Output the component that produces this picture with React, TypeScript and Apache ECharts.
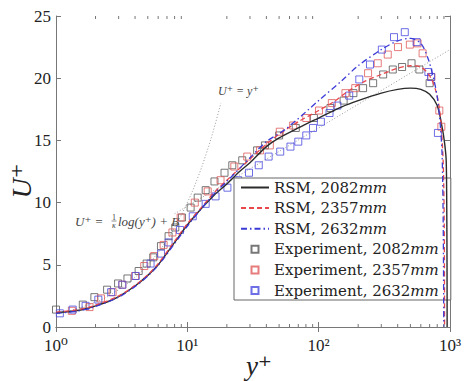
import React, { useEffect, useRef } from "react";
import * as echarts from "echarts";

// RSM model profiles (y+, U+)
const rsm2082: number[][] = [
  [1, 1.15], [1.5, 1.35], [2, 1.7], [2.5, 2.05], [3, 2.45], [4, 3.3], [5, 4.15], [6, 5.0],
  [8, 6.8], [10, 8.2], [13, 9.6], [16, 10.6], [20, 11.5], [25, 12.5], [30, 13.2], [40, 14.5],
  [50, 15.2], [70, 16.0], [100, 16.8], [150, 17.7], [200, 18.2], [300, 18.8], [400, 19.1],
  [500, 19.2], [600, 19.1], [700, 18.7], [800, 17.8], [870, 16.1], [910, 14.8], [936, 13.4],
  [945, 10], [950, 5], [952, 0],
];
const rsm2357: number[][] = [
  [1, 1.2], [1.5, 1.4], [2, 1.75], [3, 2.5], [4, 3.35], [5, 4.2], [6, 5.1], [8, 6.9],
  [10, 8.3], [13, 9.7], [16, 10.8], [20, 11.8], [30, 13.5], [40, 14.7], [50, 15.5], [70, 16.5],
  [100, 17.4], [130, 18.1], [170, 19.0], [230, 19.8], [300, 20.3], [400, 20.8], [500, 21.0],
  [600, 20.9], [700, 20.2], [780, 19.0], [830, 17.6], [860, 16.0], [890, 13.0], [905, 8], [910, 0],
];
const rsm2632: number[][] = [
  [1, 1.1], [1.5, 1.3], [2, 1.65], [3, 2.4], [4, 3.25], [5, 4.1], [6, 4.95], [8, 6.7],
  [10, 8.1], [13, 9.6], [16, 10.7], [20, 11.7], [30, 13.6], [40, 14.9], [56, 15.9], [100, 18.2],
  [150, 19.8], [200, 21.0], [300, 22.3], [400, 23.0], [500, 23.2], [600, 22.8], [680, 21.6],
  [750, 20.0], [800, 18.5], [840, 16.5], [870, 14.0], [885, 10], [893, 5], [897, 0],
];

// Measured profiles (y+, U+)
const exp2082: number[][] = [
  [1.0, 1.4], [1.6, 1.8], [1.96, 2.4], [2.45, 3.0], [2.97, 3.5], [3.5, 3.9], [4.26, 4.5],
  [4.9, 5.1], [5.5, 5.6], [6.3, 6.5], [7.2, 7.3], [8.1, 8.0], [9.1, 8.8], [10.6, 9.6],
  [12.0, 10.4], [13.8, 11.0], [16.1, 11.7], [19.2, 12.4], [22.0, 13.0], [26.2, 13.4],
  [34, 14.2], [39, 14.6], [50, 15.4], [67, 16.0], [92, 16.8], [123, 17.6], [155, 18.2],
  [184, 18.8], [218, 19.2], [260, 19.6], [310, 20.3], [367, 20.7], [432, 20.9], [510, 21.2],
  [585, 20.7], [700, 19.6],
];
const exp2357: number[][] = [
  [1.32, 1.3], [1.8, 1.6], [2.2, 2.3], [2.7, 2.8], [3.2, 3.4], [4.0, 4.1], [4.7, 4.9],
  [5.6, 5.7], [6.6, 6.6], [7.7, 7.6], [8.9, 8.8], [11.4, 10.0], [14.3, 10.9], [17.9, 11.8],
  [22.8, 12.9], [28.6, 13.7], [35.8, 14.2], [42.5, 14.6], [50.6, 15.7], [64, 16.2],
  [80.5, 16.8], [100.6, 17.4], [126, 18.0], [160, 18.8], [190, 19.2], [238, 20.4],
  [282, 21.2], [336, 21.9], [402, 22.5], [495, 22.7], [567, 22.8], [619, 22.0], [722, 20.1],
  [830, 17.4], [860, 16.1],
];
const exp2632: number[][] = [
  [1.07, 1.1], [1.34, 1.4], [1.68, 1.7], [2.1, 2.2], [2.63, 2.8], [3.2, 3.4], [4.05, 4.1],
  [5.25, 5.1], [6.3, 5.9], [7.2, 6.8], [8.8, 7.8], [11, 8.9], [13.8, 9.9], [16.4, 10.5],
  [20.2, 11.2], [24.4, 11.8], [29.5, 12.4], [35, 13.0], [41.6, 13.7], [51, 14.1], [61, 14.5],
  [70, 14.9], [80.5, 15.4], [90.6, 16.0], [104, 16.5], [121, 17.2], [139, 17.8], [171, 18.6],
  [204, 19.9], [246, 21.1], [303, 22.3], [375, 23.3], [453, 23.7], [558, 22.9], [685, 20.5],
  [718, 20.1], [810, 15.6],
];

// Reference laws
const viscousLaw: number[][] = [
  [1, 1], [2, 2], [3, 3], [4, 4], [5, 5], [6, 6], [7, 7], [8, 8], [10, 10], [12, 12],
  [14, 14], [16, 16], [18, 18],
];
const logLaw: number[][] = [[8, 9.1], [1000, 22.3]];

// Minor ticks of the logarithmic axis
const minorTickValues: number[] = [2, 3, 4, 5, 6, 7, 8, 9, 20, 30, 40, 50, 60, 70, 80, 90, 200, 300, 400, 500, 600, 700, 800, 900];

const yTicks = { min: 0, max: 25, interval: 5 };
const xRange = { min: 1, max: 1000 };

const SERIF = "'Liberation Serif', 'DejaVu Serif', serif";
const LEGEND_FONT = "'DejaVu Serif', serif";
const SUP: Record<string, string> = { "0": "⁰", "1": "¹", "2": "²", "3": "³" };
const AXIS_COLOR = "#777";
const SQUARE_ICON = "path://M0,0H10V10H0Z";

export default function App() {
  const ref = useRef<HTMLDivElement>(null);

  useEffect(() => {
    if (!ref.current) return;
    const chart = echarts.init(ref.current, undefined, { renderer: "svg" });

    const lineNames = ["RSM, 2082mm", "RSM, 2357mm", "RSM, 2632mm"];
    const squareNames = ["Experiment, 2082mm", "Experiment, 2357mm", "Experiment, 2632mm"];

    const squares = (name: string, data: number[][], color: string) => ({
      name,
      type: "scatter",
      data,
      symbol: "rect",
      symbolSize: 7,
      itemStyle: { color: "rgba(255,255,255,0)", borderColor: color, borderWidth: 1 },
      z: 3,
    });

    const curve = (name: string, data: number[][], color: string, type: any, width = 1.3) => ({
      name,
      type: "line",
      data,
      symbol: "none",
      smooth: 0.3,
      lineStyle: { color, width, type },
      itemStyle: { color },
      z: 4,
    });

    chart.setOption({
      animation: false,
      grid: { left: 56, top: 16, right: 8, bottom: 54 },
      xAxis: [
        {
          type: "log",
          logBase: 10,
          min: xRange.min,
          max: xRange.max,
          axisLine: { lineStyle: { color: AXIS_COLOR, width: 1 } },
          axisTick: { show: true, inside: true, length: 5, lineStyle: { color: AXIS_COLOR } },
          splitLine: { show: false },
          axisLabel: {
            fontFamily: SERIF,
            fontSize: 17,
            color: "#222",
            margin: 10,
            formatter: (v: number) => "10" + (SUP[String(Math.round(Math.log10(v)))] ?? ""),
          },
        },
        {
          type: "log",
          logBase: 10,
          min: xRange.min,
          max: xRange.max,
          position: "top",
          axisLine: { lineStyle: { color: AXIS_COLOR, width: 1 } },
          axisTick: { show: true, inside: true, length: 5, lineStyle: { color: AXIS_COLOR } },
          axisLabel: { show: false },
          splitLine: { show: false },
        },
      ],
      yAxis: [
        {
          type: "value",
          min: yTicks.min,
          max: yTicks.max,
          interval: yTicks.interval,
          axisLine: { show: true, lineStyle: { color: AXIS_COLOR, width: 1 } },
          axisTick: { show: true, inside: true, length: 5, lineStyle: { color: AXIS_COLOR } },
          splitLine: { show: false },
          axisLabel: { fontFamily: SERIF, fontSize: 17, color: "#222", margin: 5 },
        },
        {
          type: "value",
          min: yTicks.min,
          max: yTicks.max,
          interval: yTicks.interval,
          position: "right",
          axisLine: { show: true, lineStyle: { color: AXIS_COLOR, width: 1 } },
          axisTick: { show: true, inside: true, length: 5, lineStyle: { color: AXIS_COLOR } },
          splitLine: { show: false },
          axisLabel: { show: false },
        },
      ],
      legend: {
        data: [
          ...lineNames.map((name) => ({ name, itemStyle: { opacity: 0 } })),
          ...squareNames.map((name) => ({ name, icon: SQUARE_ICON })),
        ],
        orient: "vertical",
        left: 234,
        top: 178,
        padding: [1, 12, 1, 6],
        itemWidth: 28,
        itemHeight: 7,
        itemGap: 3.6,
        backgroundColor: "#fff",
        borderColor: "#666",
        borderWidth: 1,
        borderRadius: 0,
        textStyle: {
          fontFamily: LEGEND_FONT,
          fontSize: 15,
          lineHeight: 17,
          color: "#222",
          rich: {
            r: { fontFamily: LEGEND_FONT, fontSize: 15, lineHeight: 17, color: "#222" },
            i: { fontFamily: LEGEND_FONT, fontSize: 15, lineHeight: 17, fontStyle: "italic", color: "#222" },
          },
        },
        formatter: (name: string) => `{r|${name.replace("mm", "")}}{i|mm}`,
      },
      series: [
        {
          name: "viscous",
          type: "line",
          data: viscousLaw,
          symbol: "none",
          smooth: true,
          lineStyle: { color: "#999", width: 1, type: [1, 2] },
          z: 1,
        },
        {
          name: "loglaw",
          type: "line",
          data: logLaw,
          symbol: "none",
          lineStyle: { color: "#999", width: 1, type: [1, 2] },
          z: 1,
        },
        squares(squareNames[0], exp2082, "#555"),
        squares(squareNames[1], exp2357, "#e05a5a"),
        squares(squareNames[2], exp2632, "#4a4ae0"),
        curve(lineNames[0], rsm2082, "#2b2b2b", "solid", 1.4),
        curve(lineNames[1], rsm2357, "#e8474c", [5, 3], 1.3),
        curve(lineNames[2], rsm2632, "#3b3bd6", [6, 3, 1.5, 3], 1.3),
        {
          name: "minorTicks",
          type: "custom",
          data: minorTickValues.map((v) => [v, 0]),
          silent: true,
          clip: false,
          z: 5,
          renderItem: (_params: any, api: any) => {
            const v = api.value(0);
            const bottom = api.coord([v, yTicks.min]);
            const top = api.coord([v, yTicks.max]);
            const style = { stroke: AXIS_COLOR, lineWidth: 1 };
            return {
              type: "group",
              children: [
                { type: "line", shape: { x1: bottom[0], y1: bottom[1], x2: bottom[0], y2: bottom[1] - 3 }, style },
                { type: "line", shape: { x1: top[0], y1: top[1], x2: top[0], y2: top[1] + 3 }, style },
              ],
            };
          },
        },
      ],
      graphic: [
        {
          type: "text",
          x: 21,
          y: 181,
          rotation: Math.PI / 2,
          style: {
            text: "U⁺",
            font: `italic 28px ${SERIF}`,
            fill: "#222",
            align: "center",
            verticalAlign: "middle",
          },
        },
        {
          type: "text",
          x: 259,
          y: 366,
          style: {
            text: "y⁺",
            font: `italic 27px ${SERIF}`,
            fill: "#222",
            align: "center",
            verticalAlign: "middle",
          },
        },
        {
          type: "text",
          x: 218,
          y: 91,
          style: {
            text: "U⁺ = y⁺",
            font: `italic 12px ${SERIF}`,
            fill: "#444",
            align: "left",
            verticalAlign: "middle",
          },
        },
        {
          type: "group",
          x: 75,
          y: 221,
          children: [
            {
              type: "text",
              x: 0,
              y: 0,
              style: { text: "U⁺ =", font: `italic 13px ${SERIF}`, fill: "#444", verticalAlign: "middle" },
            },
            {
              type: "text",
              x: 39,
              y: -4,
              style: { text: "1", font: `8px ${SERIF}`, fill: "#444", align: "center", verticalAlign: "middle" },
            },
            {
              type: "line",
              shape: { x1: 36.5, y1: 0, x2: 41.5, y2: 0 },
              style: { stroke: "#444", lineWidth: 0.6 },
            },
            {
              type: "text",
              x: 39,
              y: 4,
              style: { text: "κ", font: `italic 8px ${SERIF}`, fill: "#444", align: "center", verticalAlign: "middle" },
            },
            {
              type: "text",
              x: 43,
              y: 0,
              style: { text: "log(y⁺) + B", font: `italic 13px ${SERIF}`, fill: "#444", verticalAlign: "middle" },
            },
          ],
        },
      ],
    });

    return () => chart.dispose();
  }, []);

  return (
    <div
      ref={ref}
      style={{ position: "fixed", left: 0, top: 0, width: 464, height: 381, background: "#fff" }}
    />
  );
}
